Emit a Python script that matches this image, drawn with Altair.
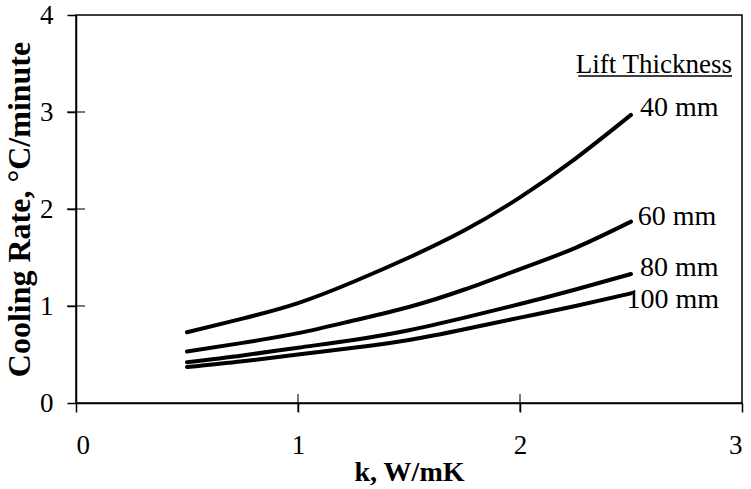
import altair as alt
import pandas as pd

# Thermal conductivity (W/mK) sample points
k_values = [0.5, 0.75, 1.0, 1.25, 1.5, 1.75, 2.0, 2.25, 2.5]

# Cooling rate (degC/minute) for each lift thickness
rate_40mm = [0.73, 0.87, 1.03, 1.25, 1.50, 1.78, 2.12, 2.52, 2.97]
rate_60mm = [0.53, 0.62, 0.72, 0.85, 0.99, 1.17, 1.38, 1.60, 1.87]
rate_80mm = [0.42, 0.49, 0.57, 0.65, 0.75, 0.88, 1.02, 1.17, 1.33]
rate_100mm = [0.37, 0.43, 0.50, 0.57, 0.65, 0.76, 0.88, 1.00, 1.13]

series_names = ["40 mm", "60 mm", "80 mm", "100 mm"]
series_rates = [rate_40mm, rate_60mm, rate_80mm, rate_100mm]

# Curve label anchors (left edge of text)
label_k = [2.54, 2.53, 2.54, 2.48]
label_rate = [3.04, 1.92, 1.39, 1.06]

# Legend heading, right-aligned, with its underline
heading_text = ["Lift Thickness"]
heading_k = [2.955]
heading_rate = [3.48]
underline_k = [2.262]
underline_k2 = [2.955]
underline_rate = [3.37]

x_ticks = [0, 1, 2, 3]
y_ticks = [0, 1, 2, 3, 4]
x_inner = [1, 2]
y_inner = [1, 2, 3]

FONT = "Liberation Serif"

rows = []
for name, rates in zip(series_names, series_rates):
    for k, r in zip(k_values, rates):
        rows.append({"k": k, "rate": r, "series": name})
curves_df = pd.DataFrame(rows)

labels_df = pd.DataFrame({"k": label_k, "rate": label_rate, "text": series_names})
heading_df = pd.DataFrame({"k": heading_k, "rate": heading_rate, "text": heading_text})
underline_df = pd.DataFrame({"k": underline_k, "k2": underline_k2, "rate": underline_rate})
xtick_df = pd.DataFrame({"k": x_inner, "rate": [0] * len(x_inner)})
ytick_df = pd.DataFrame({"k": [0] * len(y_inner), "rate": y_inner})

x_scale = alt.Scale(domain=[0, 3], nice=False, zero=False)
y_scale = alt.Scale(domain=[0, 4], nice=False, zero=False)

x_axis = alt.Axis(
    values=x_ticks, title="k, W/mK", grid=False, tickSize=9, labelPadding=20,
    titlePadding=0, titleFontSize=28, format="d",
)
y_axis = alt.Axis(
    values=y_ticks, title="Cooling Rate, \u00b0C/minute", grid=False, tickSize=9,
    labelPadding=14, titlePadding=3, titleFontSize=32, format="d",
)

curves = alt.Chart(curves_df).mark_line(
    color="black", strokeWidth=4, strokeCap="round", interpolate="natural"
).encode(
    x=alt.X("k:Q", scale=x_scale, axis=x_axis),
    y=alt.Y("rate:Q", scale=y_scale, axis=y_axis),
    detail="series:N",
)

labels = alt.Chart(labels_df).mark_text(
    align="left", baseline="middle", font=FONT, fontSize=28, color="black"
).encode(x="k:Q", y="rate:Q", text="text:N")

heading = alt.Chart(heading_df).mark_text(
    align="right", baseline="middle", font=FONT, fontSize=27, color="black"
).encode(x="k:Q", y="rate:Q", text="text:N")

underline = alt.Chart(underline_df).mark_rule(color="black", strokeWidth=1.5).encode(
    x="k:Q", x2="k2:Q", y="rate:Q"
)

x_inner_ticks = alt.Chart(xtick_df).mark_tick(
    orient="vertical", size=18, thickness=1.5, color="black"
).encode(x="k:Q", y="rate:Q")

y_inner_ticks = alt.Chart(ytick_df).mark_tick(
    orient="horizontal", size=18, thickness=1.5, color="black"
).encode(x="k:Q", y="rate:Q")

chart = alt.layer(
    curves, x_inner_ticks, y_inner_ticks, underline, heading, labels
).properties(
    width=666, height=388,
    autosize=alt.AutoSizeParams(type="none"),
    padding={"left": 76, "top": 15, "right": 9, "bottom": 86},
    background="white",
).configure_view(
    stroke="black", strokeWidth=1.5
).configure_axis(
    domainColor="black", domainWidth=1.5, tickColor="black", tickWidth=1.5,
    labelFont=FONT, labelFontSize=27, labelColor="black",
    titleFont=FONT, titleFontWeight="bold", titleColor="black",
)

chart.save("out.html", embed_options={"renderer": "svg", "actions": False})
